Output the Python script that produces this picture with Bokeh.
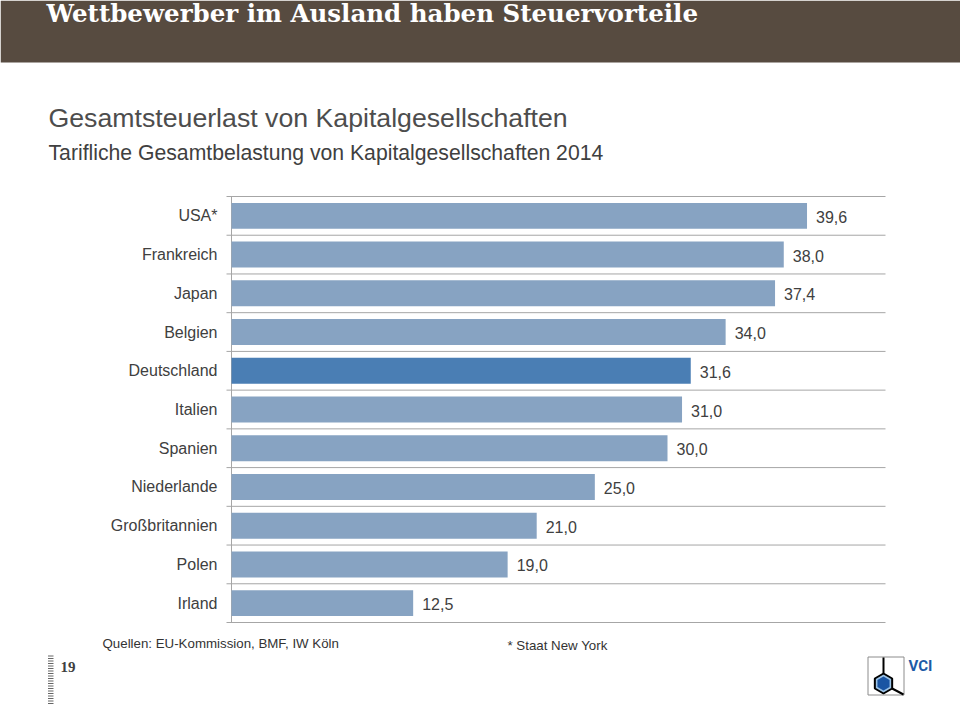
import numpy as np
from bokeh.plotting import figure
from bokeh.models import Range1d, ColumnDataSource
from bokeh.core.properties import value
from bokeh.embed import file_html
from bokeh.resources import INLINE

# ---------------- data ----------------
countries = ["USA*", "Frankreich", "Japan", "Belgien", "Deutschland", "Italien",
             "Spanien", "Niederlande", "Großbritannien", "Polen", "Irland"]
rates = [39.6, 38.0, 37.4, 34.0, 31.6, 31.0, 30.0, 25.0, 21.0, 19.0, 12.5]
highlight = "Deutschland"
x_max = 45

title = "Wettbewerber im Ausland haben Steuervorteile"
subtitle1 = "Gesamtsteuerlast von Kapitalgesellschaften"
subtitle2 = "Tarifliche Gesamtbelastung von Kapitalgesellschaften 2014"
source_txt = "Quellen: EU-Kommission, BMF, IW Köln"
note_txt = "* Staat New York"
page_no = "19"
logo_txt = "VCI"

# ---------------- layout constants (pixels) ----------------
W, H = 960, 705
FL, FR = 231, 885          # left / right end of the value axis
YT, YB = 196, 622          # top / bottom of the category bands
FONT = "Liberation Sans"
TXT = "#404040"
GRID = "#a6a6a6"

n = len(countries)
KX = (FR - FL) / x_max
KY = (YB - YT) / n


def dx(px):
    return (px - FL) / KX


def dy(py):
    return n - (py - YT) / KY


ypos = [n - i - 0.5 for i in range(n)]
bounds = list(range(n + 1))
colors = ["#4a7eb4" if c == highlight else "#87a3c2" for c in countries]
labels = [f"{v:.1f}".replace(".", ",") for v in rates]
src = ColumnDataSource(dict(y=ypos, v=rates, c=colors, lab=labels, name=countries))

p = figure(width=W, height=H, x_range=Range1d(dx(0), dx(W)),
           y_range=Range1d(dy(H), dy(0)),
           x_axis_type=None, y_axis_type=None, toolbar_location=None,
           output_backend="svg", min_border=0, outline_line_color=None)
p.grid.visible = False

# header bar and titles
p.quad(left=[dx(0)], right=[dx(W)], top=[dy(0)], bottom=[dy(62)],
       fill_color="#574b40", line_color=None)
p.text(x=[dx(46)], y=[dy(12.5)], text=[title], text_font=value("DejaVu Serif"),
       text_font_style="bold", text_font_size="24.5px", text_color="white",
       text_baseline="middle")
p.text(x=[dx(48)], y=[dy(117)], text=[subtitle1], text_font=value(FONT),
       text_font_size="26.7px", text_color="#4d4d4d", text_baseline="middle")
p.text(x=[dx(48)], y=[dy(152)], text=[subtitle2], text_font=value(FONT),
       text_font_size="21.2px", text_color=TXT, text_baseline="middle")

# category grid, axis line and ticks
p.segment(x0=dx(FL - 5), x1=x_max, y0=bounds, y1=bounds, line_color=GRID, line_width=1)
p.segment(x0=[0], x1=[0], y0=[0], y1=[n], line_color=GRID, line_width=1)

# bars, value labels and category labels
p.hbar(y="y", right="v", left=0, height=0.67, fill_color="c", line_color=None, source=src)
p.text(x="v", y="y", text="lab", x_offset=9, y_offset=1, text_baseline="middle",
       text_font=value(FONT), text_font_size="16px", text_color=TXT, source=src)
p.text(x=0, y="y", text="name", x_offset=-14, text_align="right", text_baseline="middle",
       text_font=value(FONT), text_font_size="16px", text_color=TXT, source=src)

# footer
p.text(x=[dx(102)], y=[dy(643)], text=[source_txt], text_font=value(FONT),
       text_font_size="13.3px", text_color="#333333", text_baseline="middle")
p.text(x=[dx(507)], y=[dy(645)], text=[note_txt], text_font=value(FONT),
       text_font_size="13.3px", text_color="#333333", text_baseline="middle")
p.text(x=[dx(60)], y=[dy(666)], text=[page_no], text_font=value("Liberation Serif"),
       text_font_style="bold", text_font_size="15px", text_color=TXT,
       text_baseline="middle")
ruler_y = np.arange(655.5, 705, 2.5)
p.segment(x0=dx(47.5), x1=dx(53), y0=[dy(v) for v in ruler_y], y1=[dy(v) for v in ruler_y],
          line_color="#666666", line_width=1)

# logo
p.quad(left=[dx(867.5)], right=[dx(903.5)], top=[dy(656.5)], bottom=[dy(694.5)],
       fill_color=None, line_color="#8c8c8c", line_width=1)
cx, cy, r = 883, 683, 10
ang = np.deg2rad(np.array([90, 30, -30, -90, -150, 150]))
hx = cx + r * np.cos(ang)
hy = cy - r * np.sin(ang)
p.segment(x0=[dx(cx)], y0=[dy(657)], x1=[dx(cx)], y1=[dy(cy - r)],
          line_color="black", line_width=2)
p.segment(x0=[dx(hx[2])], y0=[dy(hy[2])], x1=[dx(903)], y1=[dy(694)],
          line_color="black", line_width=2)
p.patch([dx(v) for v in hx], [dy(v) for v in hy], fill_color="#9cc3e6",
        line_color="black", line_width=2)
ri = r - 3
p.patch([dx(cx + ri * np.cos(a)) for a in ang], [dy(cy - ri * np.sin(a)) for a in ang],
        fill_color="#1a55a3", line_color=None)
p.text(x=[dx(908)], y=[dy(665)], text=[logo_txt], text_font=value("Roboto"),
       text_font_style="bold", text_font_size="15px", text_color="#1d5aa6",
       text_baseline="middle")

open("out.html", "w").write(file_html(p, INLINE))
